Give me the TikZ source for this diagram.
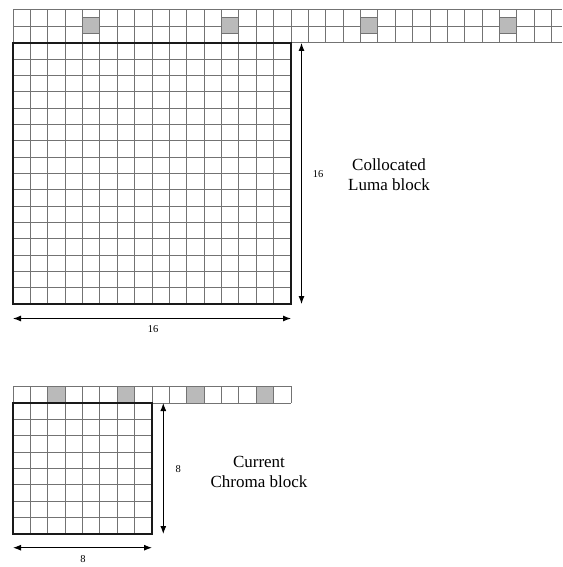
\documentclass[tikz,border=0pt]{standalone}
\usepackage{fontspec}
\setmainfont{Liberation Serif}
\usetikzlibrary{arrows.meta}
\begin{document}
\begin{tikzpicture}[x=1pt,y=-1pt,
  gridline/.style={draw=black!55,line width=1pt},
  borderline/.style={draw=black!90,line width=1.5pt},
  graycell/.style={fill=black!27,draw=black!55,line width=1pt},
  dimarrow/.style={draw=black,line width=1pt,{Latex[length=8pt,width=6pt]}-{Latex[length=8pt,width=6pt]}},
  dimlabel/.style={font=\fontsize{10.5}{12}\selectfont,inner sep=0pt},
  blocklabel/.style={font=\fontsize{17}{20}\selectfont,align=center,inner sep=0pt}]
\useasboundingbox (0,0) rectangle (562,567);
\def\cw{17.375}
% ---------- Luma: top reference strip ----------
\foreach \k in {0,...,31}{
  \draw[gridline] ({13+\k*\cw},9.3) -- ({13+\k*\cw},43);
}
\foreach \yy in {9.3,26.2,43}{
  \draw[gridline] (13,\yy) -- (562,\yy);
}
\foreach \k in {4,12,20,28}{
  \draw[graycell] ({13+\k*\cw},17.5) rectangle ({13+(\k+1)*\cw},34);
}
% ---------- Luma: 16x16 block ----------
\foreach \k in {1,...,15}{
  \draw[gridline] ({13+\k*\cw},43) -- ({13+\k*\cw},304);
  \draw[gridline] (13,{43+\k*16.3125}) -- (291,{43+\k*16.3125});
}
\draw[borderline] (13,43) rectangle (291,304);
% dimension arrows (luma)
\coordinate (lvt) at (301.5,43);
\coordinate (lvb) at (301.5,304);
\coordinate (lhl) at (13,318.5);
\coordinate (lhr) at (291,318.5);
\draw[dimarrow] (lvt) -- (lvb);
\draw[dimarrow] (lhl) -- (lhr);
\node[dimlabel] (l16v) at (318,174) {16};
\node[dimlabel] (l16h) at (153,329) {16};
\node[blocklabel] (lumatext) at (389,175) {Collocated\\Luma block};
% ---------- Chroma: top reference strip ----------
\foreach \k in {0,...,16}{
  \draw[gridline] ({13+\k*\cw},386) -- ({13+\k*\cw},403);
}
\draw[gridline] (13,386) -- (291,386);
\draw[gridline] (13,403) -- (291,403);
\foreach \k in {2,6,10,14}{
  \draw[graycell] ({13+\k*\cw},386) rectangle ({13+(\k+1)*\cw},403);
}
% ---------- Chroma: 8x8 block ----------
\foreach \k in {1,...,7}{
  \draw[gridline] ({13+\k*\cw},403) -- ({13+\k*\cw},534);
  \draw[gridline] (13,{403+\k*16.375}) -- (152,{403+\k*16.375});
}
\draw[borderline] (13,403) rectangle (152,534);
% dimension arrows (chroma)
\coordinate (cvt) at (163.3,403);
\coordinate (cvb) at (163.3,534);
\coordinate (chl) at (13,547.7);
\coordinate (chr) at (152,547.7);
\draw[dimarrow] (cvt) -- (cvb);
\draw[dimarrow] (chl) -- (chr);
\node[dimlabel] (c8v) at (178.3,469) {8};
\node[dimlabel] (c8h) at (83,559) {8};
\node[blocklabel] (chromatext) at (259,472) {Current\\Chroma block};
\end{tikzpicture}
\end{document}
